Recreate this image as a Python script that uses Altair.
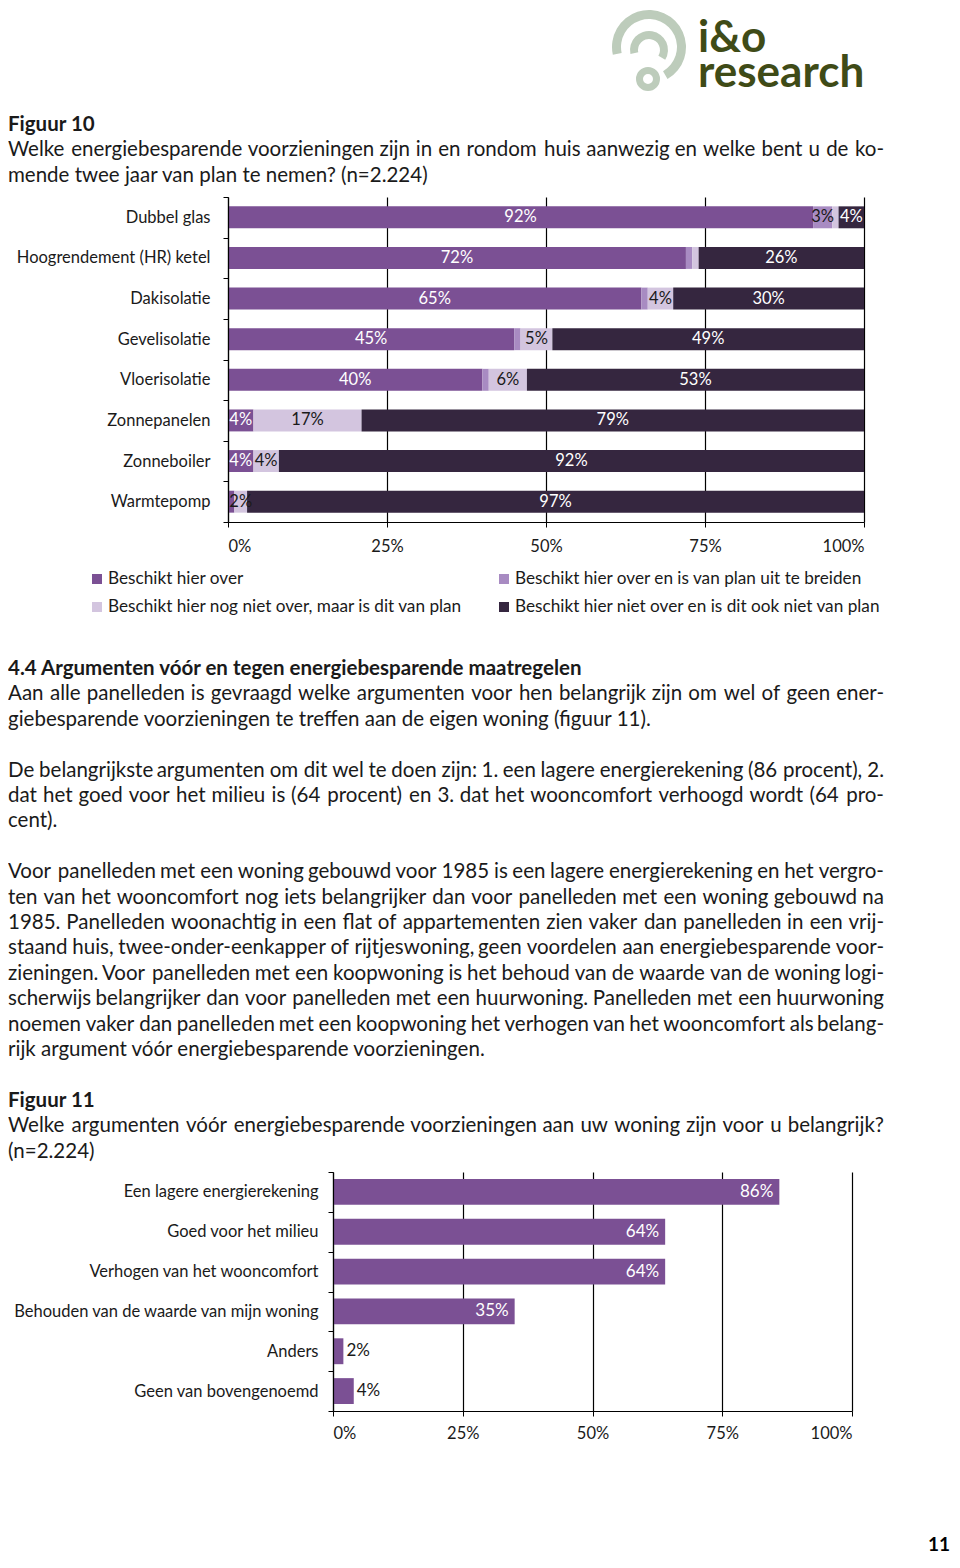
import altair as alt
import pandas as pd

# ---------------- data ----------------
voorzieningen = ["Dubbel glas", "Hoogrendement (HR) ketel", "Dakisolatie", "Gevelisolatie",
                 "Vloerisolatie", "Zonnepanelen", "Zonneboiler", "Warmtepomp"]
beschikt = [92, 72, 65, 45, 40, 4, 4, 1]
uitbreiden = [3, 1, 1, 1, 1, 0, 0, 0]
van_plan = [1, 1, 4, 5, 6, 17, 4, 2]
niet_van_plan = [4, 26, 30, 49, 53, 79, 92, 97]
categorieen = ["Beschikt hier over",
               "Beschikt hier over en is van plan uit te breiden",
               "Beschikt hier nog niet over, maar is dit van plan",
               "Beschikt hier niet over en is dit ook niet van plan"]
kleuren = ["#7b5094", "#a88bc2", "#d3c5df", "#35263f"]

argumenten = ["Een lagere energierekening", "Goed voor het milieu", "Verhogen van het wooncomfort",
              "Behouden van de waarde van mijn woning", "Anders", "Geen van bovengenoemd"]
argument_pct = [86, 64, 64, 35, 2, 4]
as_ticks = [0, 25, 50, 75, 100]

logo_words = ["i&o", "research"]

header_lines = [
    ("b", "Figuur 10"),
    ("j", "Welke energiebesparende voorzieningen zijn in en rondom huis aanwezig en welke bent u de ko-"),
    ("p", "mende twee jaar van plan te nemen? (n=2.224)"),
]
body_lines = [
    ("b", "4.4 Argumenten vóór en tegen energiebesparende maatregelen"),
    ("j", "Aan alle panelleden is gevraagd welke argumenten voor hen belangrijk zijn om wel of geen ener-"),
    ("p", "giebesparende voorzieningen te treffen aan de eigen woning (figuur 11)."),
    ("", ""),
    ("j", "De belangrijkste argumenten om dit wel te doen zijn: 1. een lagere energierekening (86 procent), 2."),
    ("j", "dat het goed voor het milieu is (64 procent) en 3. dat het wooncomfort verhoogd wordt (64 pro-"),
    ("p", "cent)."),
    ("", ""),
    ("j", "Voor panelleden met een woning gebouwd voor 1985 is een lagere energierekening en het vergro-"),
    ("j", "ten van het wooncomfort nog iets belangrijker dan voor panelleden met een woning gebouwd na"),
    ("j", "1985. Panelleden woonachtig in een flat of appartementen zien vaker dan panelleden in een vrij-"),
    ("j", "staand huis, twee-onder-eenkapper of rijtjeswoning, geen voordelen aan energiebesparende voor-"),
    ("j", "zieningen. Voor panelleden met een koopwoning is het behoud van de waarde van de woning logi-"),
    ("j", "scherwijs belangrijker dan voor panelleden met een huurwoning. Panelleden met een huurwoning"),
    ("j", "noemen vaker dan panelleden met een koopwoning het verhogen van het wooncomfort als belang-"),
    ("p", "rijk argument vóór energiebesparende voorzieningen."),
    ("", ""),
    ("b", "Figuur 11"),
    ("j", "Welke argumenten vóór energiebesparende voorzieningen aan uw woning zijn voor u belangrijk?"),
    ("p", "(n=2.224)"),
]
page_number = "11"

# ---------------- style ----------------
FONT = "Lato"
TXT = "#1a1a1a"
BODY_SIZE = 20.5
CHART_SIZE = 16.5
LEGEND_SIZE = 17.2
W_PAGE = 944
LEFT, RIGHT = 0, 876
LINE_STEP = 25.4

# approximate Lato advance widths (em) used only for justifying lines
LATO = {" ": .193, ".": .21, ",": .21, ":": .24, ";": .24, "(": .30, ")": .30, "-": .37, "?": .47,
        "%": .80, "=": .58, "&": .70}
for c, w in zip("abcdefghijklmnopqrstuvwxyz",
                [.49, .56, .46, .56, .52, .33, .50, .555, .235, .235, .50, .235, .845, .555, .565,
                 .56, .56, .375, .415, .35, .555, .50, .77, .49, .50, .44]):
    LATO[c] = w
for c, w in zip("ABCDEFGHIJKLMNOPQRSTUVWXYZ",
                [.68, .64, .67, .75, .565, .55, .72, .76, .29, .40, .66, .51, .93, .76, .79, .60,
                 .79, .625, .53, .585, .73, .68, 1.0, .66, .63, .61]):
    LATO[c] = w
for c in "0123456789":
    LATO[c] = .58
LATO["ó"] = .565


def tw(s, size):
    return sum(LATO.get(c, .52) for c in s) * size


def flow(lines, y0, size):
    rows = []
    for i, (style, s) in enumerate(lines):
        if not s:
            continue
        y = y0 + i * LINE_STEP
        if style == "j":
            words = s.split(" ")
            ws = [tw(w, size) for w in words]
            gap = (RIGHT - LEFT - sum(ws)) / (len(words) - 1)
            x = LEFT
            for k, (w, wd) in enumerate(zip(words, ws)):
                if k == len(words) - 1:
                    rows.append(dict(x=RIGHT, y=y, t=w, k="r"))
                else:
                    rows.append(dict(x=x, y=y, t=w, k="l"))
                x += wd + gap
        else:
            rows.append(dict(x=LEFT, y=y, t=s, k="b" if style == "b" else "l"))
    df = pd.DataFrame(rows)
    base = alt.Chart(df).encode(
        x=alt.X("x:Q", scale=None, axis=None),
        y=alt.Y("y:Q", scale=None, axis=None),
        text="t:N",
    )
    out = []
    for k, a, fw in [("l", "left", "normal"), ("r", "right", "normal"), ("b", "left", "bold")]:
        out.append(base.transform_filter(f"datum.k == '{k}'").mark_text(
            align=a, baseline="middle", font=FONT, fontSize=size, fontWeight=fw, color=TXT))
    return out


one = pd.DataFrame({"a": [0]})

# ---------------- header (page y 8..197) ----------------
logo_c = "#bdccbb"
arcA = alt.Chart(one).mark_arc(innerRadius=28, outerRadius=37, theta=4.5, theta2=8.9,
                               color=logo_c).encode(x=alt.value(641), y=alt.value(39))
arcB = alt.Chart(one).mark_arc(innerRadius=11, outerRadius=19, theta=4.5, theta2=8.4,
                               color=logo_c).encode(x=alt.value(641), y=alt.value(42))
arcC = alt.Chart(one).mark_arc(innerRadius=5, outerRadius=12, theta=0, theta2=6.2832,
                               color=logo_c).encode(x=alt.value(640), y=alt.value(71))
logo_df = pd.DataFrame({"t": logo_words, "x": [690, 690], "y": [44, 79]})
logo_txt = alt.Chart(logo_df).mark_text(
    align="left", baseline="alphabetic", font=FONT, fontWeight="bold", fontSize=44, color="#3f4b17"
).encode(x=alt.X("x:Q", scale=None, axis=None), y=alt.Y("y:Q", scale=None, axis=None), text="t:N")

header = alt.layer(arcA, arcB, arcC, logo_txt, *flow(header_lines, 125 - 8, BODY_SIZE)).properties(
    width=W_PAGE, height=189)

# ---------------- figure 10 (page y 197..522) ----------------
rows = []
for i, item in enumerate(voorzieningen):
    for j, series in enumerate([beschikt, uitbreiden, van_plan, niet_van_plan]):
        rows.append(dict(item=item, seg=categorieen[j], order=j, value=series[i]))
df1 = pd.DataFrame(rows)

x1_scale = alt.Scale(domain=[0, 100], range=[220, 856], nice=False)
x1_axis = alt.Axis(values=as_ticks, labelExpr="datum.value + '%'", grid=True, gridColor="black",
                   gridWidth=1.2, gridOpacity=1, domainColor="black", domainWidth=1.2,
                   tickColor="black", tickSize=5, labelPadding=19, labelBaseline="middle",
                   labelFont=FONT, labelFontSize=CHART_SIZE, labelColor=TXT, title=None)
y1 = alt.Y("item:N", sort=voorzieningen, title=None,
           scale=alt.Scale(paddingInner=0, paddingOuter=0),
           axis=alt.Axis(offset=-220, tickBand="extent", tickSize=5, tickColor="black",
                         domainColor="black", domainWidth=1.2, labelPadding=13, labelFont=FONT,
                         labelFontSize=CHART_SIZE, labelColor=TXT, labelLimit=400, zindex=2))

bars1 = alt.Chart(df1).mark_bar(height={"band": 0.54}).encode(
    y=y1,
    x=alt.X("value:Q", stack="zero", scale=x1_scale, axis=x1_axis),
    color=alt.Color("seg:N", sort=categorieen, scale=alt.Scale(domain=categorieen, range=kleuren),
                    legend=None),
    order=alt.Order("order:Q"),
)
labels1 = alt.Chart(df1).transform_window(
    cum="sum(value)", groupby=["item"], sort=[alt.SortField("order")], frame=[None, 0]
).transform_calculate(
    mid="datum.cum - datum.value / 2",
    lab="datum.value + '%'",
    tcol="(datum.order == 0 || datum.order == 3) ? 'white' : '#1a1a1a'",
).transform_filter("datum.value >= 2").mark_text(
    font=FONT, fontSize=CHART_SIZE, baseline="middle", align="center"
).encode(
    y=y1,
    x=alt.X("mid:Q", stack=None, scale=x1_scale, axis=x1_axis),
    text="lab:N",
    fill=alt.Fill("tcol:N", scale=None),
)
fig10 = alt.layer(bars1, labels1).properties(width=W_PAGE, height=325)

# ---------------- middle text (page y 522..1172) ----------------
leg_df = pd.DataFrame({
    "seg": categorieen,
    "x": [89, 496, 89, 496],
    "y": [57, 57, 85, 85],
})
leg_sq = alt.Chart(leg_df).mark_square(size=100, opacity=1).encode(
    x=alt.X("x:Q", scale=None, axis=None), y=alt.Y("y:Q", scale=None, axis=None),
    color=alt.Color("seg:N", scale=alt.Scale(domain=categorieen, range=kleuren), legend=None),
)
leg_tx = alt.Chart(leg_df).transform_calculate(tx="datum.x + 11").mark_text(
    align="left", baseline="middle", font=FONT, fontSize=LEGEND_SIZE, color=TXT
).encode(x=alt.X("tx:Q", scale=None, axis=None), y=alt.Y("y:Q", scale=None, axis=None), text="seg:N")

middle = alt.layer(leg_sq, leg_tx, *flow(body_lines, 669 - 522, BODY_SIZE)).properties(
    width=W_PAGE, height=650)

# ---------------- figure 11 (page y 1172..1411) ----------------
df2 = pd.DataFrame({"arg": argumenten, "val": argument_pct})
x2_scale = alt.Scale(domain=[0, 100], range=[325, 844], nice=False)
x2_axis = alt.Axis(values=as_ticks, labelExpr="datum.value + '%'", grid=True, gridColor="black",
                   gridWidth=1.2, gridOpacity=1, domainColor="black", domainWidth=1.2,
                   tickColor="black", tickSize=5, labelPadding=17, labelBaseline="middle",
                   labelFont=FONT, labelFontSize=CHART_SIZE, labelColor=TXT, title=None)
y2 = alt.Y("arg:N", sort=argumenten, title=None,
           scale=alt.Scale(paddingInner=0, paddingOuter=0),
           axis=alt.Axis(offset=-325, tickBand="extent", tickSize=5, tickColor="black",
                         domainColor="black", domainWidth=1.2, labelPadding=10, labelFont=FONT,
                         labelFontSize=CHART_SIZE, labelColor=TXT, labelLimit=400, zindex=2))
base2 = alt.Chart(df2).transform_calculate(lab="datum.val + '%'").encode(
    y=y2, x=alt.X("val:Q", scale=x2_scale, axis=x2_axis))
bars2 = base2.mark_bar(height={"band": 0.65}, color=kleuren[0])
lab_in = base2.transform_filter("datum.val >= 10").mark_text(
    align="right", baseline="middle", dx=-6, font=FONT, fontSize=17, color="white"
).encode(text="lab:N")
lab_out = base2.transform_filter("datum.val < 10").mark_text(
    align="left", baseline="middle", dx=3, font=FONT, fontSize=17, color=TXT
).encode(text="lab:N")
fig11 = alt.layer(bars2, lab_in, lab_out).properties(width=W_PAGE, height=239)

# ---------------- footer (page y 1411..1556) ----------------
foot_df = pd.DataFrame({"t": [page_number], "x": [942], "y": [140]})
footer = alt.Chart(foot_df).mark_text(
    align="right", baseline="alphabetic", font=FONT, fontWeight="bold", fontSize=19, color="black"
).encode(x=alt.X("x:Q", scale=None, axis=None), y=alt.Y("y:Q", scale=None, axis=None),
         text="t:N").properties(width=W_PAGE, height=145)

chart = alt.vconcat(header, fig10, middle, fig11, footer, spacing=0, bounds="flush",
                    padding=0).configure(font=FONT, background="white").configure_view(stroke=None)

chart.save("out.html", embed_options={"renderer": "svg", "actions": False})
